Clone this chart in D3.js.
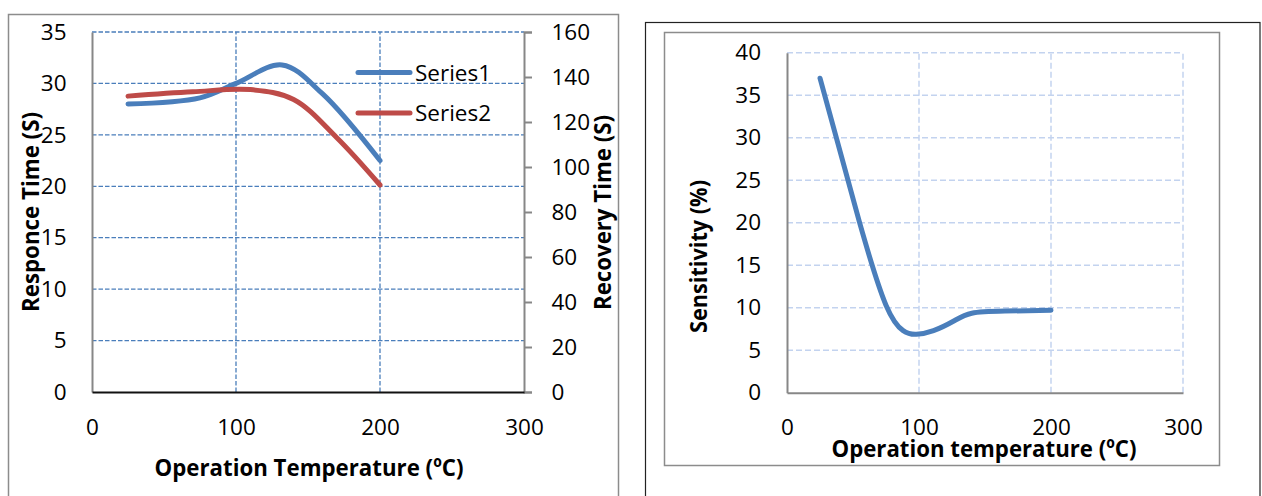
<!DOCTYPE html>
<html><head><meta charset="utf-8">
<script src="https://cdn.jsdelivr.net/npm/d3@7"></script>
<style>
html,body{margin:0;padding:0;background:#fff;}
svg{display:block;}
text{font-family:"Open Sans","Noto Sans",sans-serif;fill:#000;}
</style></head>
<body>
<svg id="c" width="1262" height="496"></svg>
<script>
// ---- data ----
const respTemps = [25, 75, 100, 132, 160, 200];
const responseTime = [28, 28.6, 30, 31.8, 29, 22.5];
const recTemps = [25, 70, 110, 140, 170, 200];
const recoveryTime = [131.5, 133.4, 134.4, 130, 113, 92];
const sensTemps = [25, 55, 75, 88, 98, 111, 126, 140, 165, 200];
const sensitivity = [37, 20, 10.3, 7.3, 6.87, 7.3, 8.4, 9.35, 9.6, 9.7];
const xTicks = [0, 100, 200, 300];
const respTicks = [0, 5, 10, 15, 20, 25, 30, 35];
const recTicks = [0, 20, 40, 60, 80, 100, 120, 140, 160];
const sensTicks = [0, 5, 10, 15, 20, 25, 30, 35, 40];
const seriesNames = ["Series1", "Series2"];

const svg = d3.select("#c");
const BLUE = "#4a7ebb", RED = "#be4b48", GRID = "#4a7ebb", LGRID = "#c3d3ef", AX = "#878787";
const FS = 22.5;

// ===== Left chart =====
svg.append("rect").attr("x", 8.5).attr("y", 14.5).attr("width", 610).attr("height", 520)
  .attr("fill", "none").attr("stroke", "#8c8c8c").attr("stroke-width", 1.5);

const xL = d3.scaleLinear().domain([0, 300]).range([92, 524]);
const yL = d3.scaleLinear().domain([0, 35]).range([392, 32]);
const yR = d3.scaleLinear().domain([0, 160]).range([392, 32]);

const gL = svg.append("g");
gL.selectAll("line.h").data(respTicks.filter(d => d > 0)).join("line")
  .attr("x1", xL(0)).attr("x2", xL(300)).attr("y1", d => yL(d)).attr("y2", d => yL(d))
  .attr("stroke", GRID).attr("stroke-width", 1.3).attr("stroke-dasharray", "4.5,2");
gL.selectAll("line.v").data([100, 200]).join("line")
  .attr("x1", d => xL(d)).attr("x2", d => xL(d)).attr("y1", yL(0)).attr("y2", yL(35))
  .attr("stroke", GRID).attr("stroke-width", 1.3).attr("stroke-dasharray", "4.5,2");

const axL = gL.append("g").attr("transform", `translate(${xL(0)},0)`)
  .call(d3.axisLeft(yL).tickValues(respTicks).tickSize(0).tickPadding(25.5));
axL.select(".domain").attr("stroke", AX).attr("stroke-width", 2);
const axR = gL.append("g").attr("transform", `translate(${xL(300)},0)`)
  .call(d3.axisRight(yR).tickValues(recTicks).tickSize(8).tickPadding(19.5));
axR.select(".domain").attr("stroke", AX).attr("stroke-width", 2);
axR.selectAll(".tick line").attr("stroke", AX).attr("stroke-width", 2);
const axB = gL.append("g").attr("transform", `translate(0,${yL(0)})`)
  .call(d3.axisBottom(xL).tickValues(xTicks).tickSize(0).tickPadding(27));
axB.select(".domain").attr("stroke", "#111").attr("stroke-width", 2);
[axL, axR, axB].forEach(a => a.selectAll("text").attr("font-size", FS).attr("font-family", '"Open Sans",sans-serif').attr("fill", "#000"));

const lineL = d3.line().x(d => xL(d[0])).y(d => yL(d[1])).curve(d3.curveCatmullRom.alpha(0.5));
const lineR = d3.line().x(d => xL(d[0])).y(d => yR(d[1])).curve(d3.curveCatmullRom.alpha(0.5));
gL.append("path").datum(respTemps.map((t, i) => [t, responseTime[i]])).attr("d", lineL)
  .attr("fill", "none").attr("stroke", BLUE).attr("stroke-width", 5).attr("stroke-linecap", "round");
gL.append("path").datum(recTemps.map((t, i) => [t, recoveryTime[i]])).attr("d", lineR)
  .attr("fill", "none").attr("stroke", RED).attr("stroke-width", 5).attr("stroke-linecap", "round");

const leg = gL.append("g");
[BLUE, RED].forEach((c, i) => {
  const y = 72.5 + i * 40.5;
  leg.append("line").attr("x1", 358).attr("x2", 410).attr("y1", y).attr("y2", y)
    .attr("stroke", c).attr("stroke-width", 5).attr("stroke-linecap", "round");
  leg.append("text").attr("x", 415).attr("y", y + 8).attr("font-size", FS).text(seriesNames[i]);
});

function title(g, txt, x, y, len, rot, fs) {
  return g.append("text").attr("text-anchor", "middle").attr("font-weight", "bold")
    .attr("font-size", fs).attr("textLength", len).attr("lengthAdjust", "spacingAndGlyphs")
    .attr("transform", `translate(${x},${y})` + (rot ? " rotate(-90)" : ""))
    .text(txt);
}
title(gL, "Operation Temperature (\u00BAC)", 309, 476, 309, false, 24);
title(gL, "Responce Time (S)", 39, 212, 200, true, 24);
title(gL, "Recovery Time (S)", 611, 212.5, 195, true, 24);

// ===== Right chart =====
svg.append("rect").attr("x", 645.5).attr("y", 22.5).attr("width", 614.5).attr("height", 520)
  .attr("fill", "none").attr("stroke", "#222").attr("stroke-width", 1.2);
svg.append("rect").attr("x", 664.5).attr("y", 32.5).attr("width", 555).attr("height", 433)
  .attr("fill", "none").attr("stroke", "#8c8c8c").attr("stroke-width", 1.5);

const x2 = d3.scaleLinear().domain([0, 300]).range([787, 1183]);
const y2 = d3.scaleLinear().domain([0, 40]).range([392.7, 52.7]);
const g2 = svg.append("g");
g2.selectAll("line.h").data(sensTicks.filter(d => d > 0)).join("line")
  .attr("x1", x2(0)).attr("x2", x2(300)).attr("y1", d => y2(d)).attr("y2", d => y2(d))
  .attr("stroke", LGRID).attr("stroke-width", 1.5).attr("stroke-dasharray", "6,3");
g2.selectAll("line.v").data([100, 200, 300]).join("line")
  .attr("x1", d => x2(d)).attr("x2", d => x2(d)).attr("y1", y2(0)).attr("y2", y2(40))
  .attr("stroke", LGRID).attr("stroke-width", 1.5).attr("stroke-dasharray", "6,3");
const a2L = g2.append("g").attr("transform", `translate(${x2(0)},0)`)
  .call(d3.axisLeft(y2).tickValues(sensTicks).tickSize(0).tickPadding(26));
a2L.select(".domain").attr("stroke", AX).attr("stroke-width", 2);
const a2B = g2.append("g").attr("transform", `translate(0,${y2(0)})`)
  .call(d3.axisBottom(x2).tickValues(xTicks).tickSize(0).tickPadding(26.5));
a2B.select(".domain").attr("stroke", AX).attr("stroke-width", 2);
[a2L, a2B].forEach(a => a.selectAll("text").attr("font-size", FS).attr("font-family", '"Open Sans",sans-serif').attr("fill", "#000"));

const line2 = d3.line().x(d => x2(d[0])).y(d => y2(d[1])).curve(d3.curveNatural);
g2.append("path").datum(sensTemps.map((t, i) => [t, sensitivity[i]])).attr("d", line2)
  .attr("fill", "none").attr("stroke", BLUE).attr("stroke-width", 5).attr("stroke-linecap", "round");

title(g2, "Operation temperature (\u00BAC)", 984, 457, 305, false, 24);
title(g2, "Sensitivity (%)", 706.5, 256.5, 153, true, 24);
</script>
</body></html>
